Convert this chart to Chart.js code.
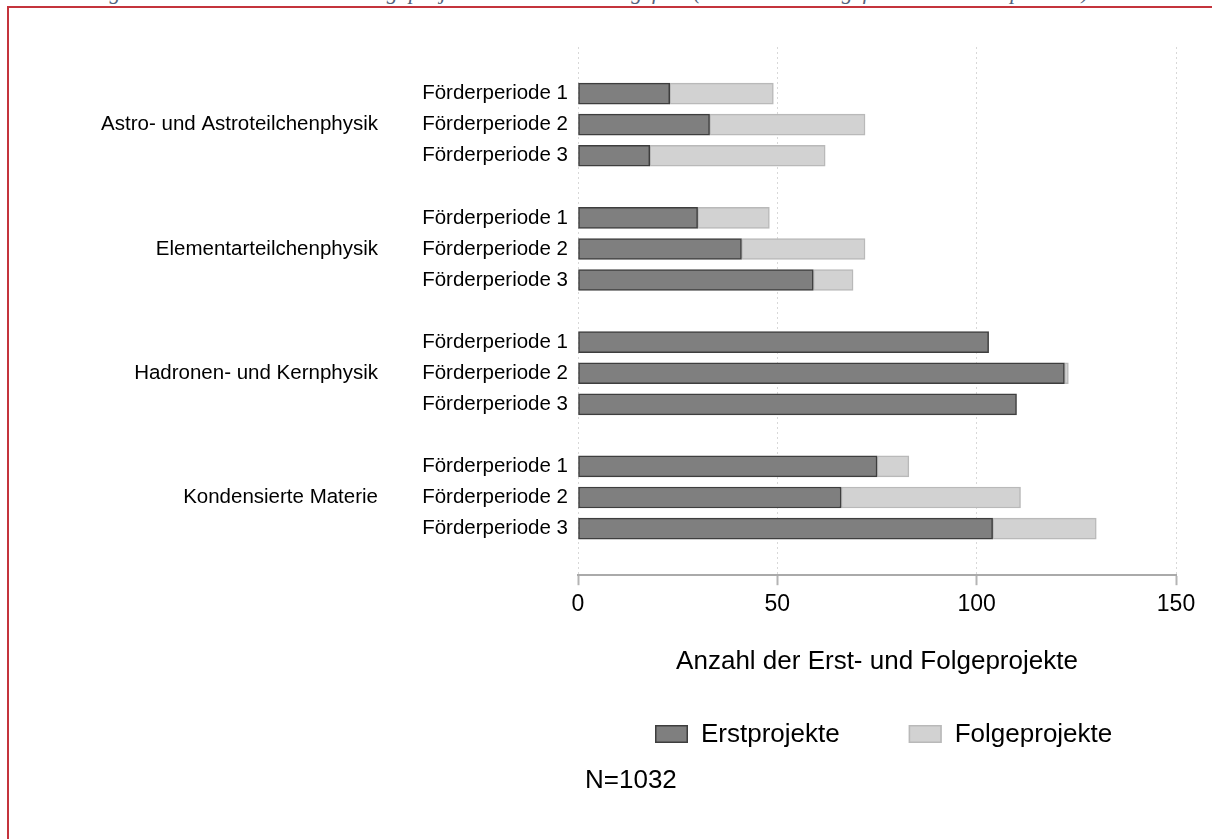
<!DOCTYPE html>
<html><head><meta charset="utf-8">
<script src="https://cdn.jsdelivr.net/npm/chart.js@4.4.0/dist/chart.umd.min.js"></script>
<style>
html,body{margin:0;padding:0;background:#fff;overflow:hidden;}
#wrap{position:relative;width:1212px;height:839px;overflow:hidden;}
#frame{position:absolute;left:7px;top:6px;width:1300px;height:900px;border-top:2px solid #c4343c;border-left:2px solid #c4343c;}
#cap{position:absolute;left:24px;top:-21px;font:italic 22px "Liberation Serif",serif;color:#52627c;white-space:nowrap;letter-spacing:0.6px;}
canvas{position:absolute;left:0;top:0;}
</style></head><body>
<div id="wrap"><div id="cap">Abbildung 7: Anzahl der Erst- und Folgeprojekte nach Forschungsfeld (nach Forschungsfeld und Förderperiode)</div><div id="frame"></div><canvas id="c" width="1212" height="839"></canvas></div>
<script>
const groups = ['Astro- und Astroteilchenphysik', 'Elementarteilchenphysik', 'Hadronen- und Kernphysik', 'Kondensierte Materie'];
const periods = ['Förderperiode 1', 'Förderperiode 2', 'Förderperiode 3'];
const erstprojekte = [23, 33, 18, 30, 41, 59, 103, 122, 110, 75, 66, 104];
const folgeprojekte = [26, 39, 44, 18, 31, 10, 0, 1, 0, 8, 45, 26];
const xTicks = [0, 50, 100, 150];
const seriesNames = ['Erstprojekte', 'Folgeprojekte'];
const axisTitle = 'Anzahl der Erst- und Folgeprojekte';
const sampleNote = 'N=1032';

// Build category slots (empty slot between groups) for the library
const periodLabels = [], groupLabels = [], erstData = [], folgeData = [];
function blankSlot() { periodLabels.push(''); groupLabels.push(''); erstData.push(null); folgeData.push(null); }
blankSlot();
groups.forEach((g, gi) => {
  periods.forEach((p, pi) => {
    periodLabels.push(p);
    groupLabels.push(pi === 1 ? g : '');
    erstData.push(erstprojekte[gi * periods.length + pi]);
    folgeData.push(folgeprojekte[gi * periods.length + pi]);
  });
  blankSlot();
});

const FONT = '"Liberation Sans", Arial, Helvetica, sans-serif';

const customLegend = {
  id: 'customLegend',
  afterDraw(chart) {
    const ctx = chart.ctx;
    const ca = chart.chartArea;
    const xs = chart.scales.x;
    const yMid = xs.bottom + 57;
    ctx.save();
    ctx.font = '26px ' + FONT;
    ctx.textBaseline = 'middle';
    ctx.textAlign = 'left';
    let x = ca.left + 77;
    chart.data.datasets.forEach((ds) => {
      ctx.fillStyle = ds.backgroundColor;
      ctx.fillRect(x, yMid - 9, 33, 18);
      ctx.strokeStyle = ds.borderColor;
      ctx.lineWidth = 1.5;
      ctx.strokeRect(x + 0.75, yMid - 8.25, 31.5, 16.5);
      ctx.fillStyle = '#000';
      ctx.fillText(ds.label, x + 46, yMid + 1);
      x += 46 + ctx.measureText(ds.label).width + 69;
    });
    ctx.fillText(sampleNote, ca.left + 7, xs.bottom + 104);
    ctx.restore();
  }
};

const noVPad = (w) => (s) => { s.width = w; s.paddingTop = 0; s.paddingBottom = 0; };

new Chart(document.getElementById('c'), {
  type: 'bar',
  data: {
    labels: periodLabels,
    datasets: [
      { label: seriesNames[0], data: erstData, backgroundColor: '#7f7f7f', borderColor: '#3e3e3e', borderWidth: 1.5, borderSkipped: false, barThickness: 21 },
      { label: seriesNames[1], data: folgeData, backgroundColor: '#d2d2d2', borderColor: '#b9b9b9', borderWidth: 1.5, borderSkipped: false, barThickness: 21 }
    ]
  },
  options: {
    indexAxis: 'y',
    responsive: false,
    animation: false,
    layout: { padding: { left: 101, right: 36, top: 47, bottom: 162 } },
    plugins: { legend: { display: false }, tooltip: { enabled: false }, title: { display: false } },
    scales: {
      x: {
        type: 'linear', min: 0, max: 150, stacked: true,
        afterBuildTicks: (s) => { s.ticks = xTicks.map(v => ({ value: v })); },
        grid: { color: '#d8d8d8', lineWidth: 1, drawTicks: true, tickLength: 10, tickColor: '#b4b4b4', tickWidth: 2, tickBorderDash: [] },
        border: { display: true, color: '#aaaaaa', width: 2, dash: [2, 3] },
        ticks: { color: '#000', font: { family: FONT, size: 23 }, padding: 6 },
        title: { display: true, text: axisTitle, color: '#000', font: { family: FONT, size: 26 }, padding: { top: 21, bottom: 0 } }
      },
      y: {
        type: 'category', position: 'left', stacked: true, offset: true, weight: 0,
        grid: { display: false, drawTicks: false }, border: { display: false },
        ticks: { color: '#000', font: { family: FONT, size: 20.5 }, padding: 10, autoSkip: false },
        afterFit: noVPad(156)
      },
      y2: {
        type: 'category', position: 'left', labels: groupLabels, offset: true, weight: 1,
        grid: { display: false, drawTicks: false }, border: { display: false },
        ticks: { color: '#000', font: { family: FONT, size: 20.5 }, padding: 44, autoSkip: false },
        afterFit: noVPad(321)
      }
    }
  },
  plugins: [customLegend]
});
</script>
</body></html>
